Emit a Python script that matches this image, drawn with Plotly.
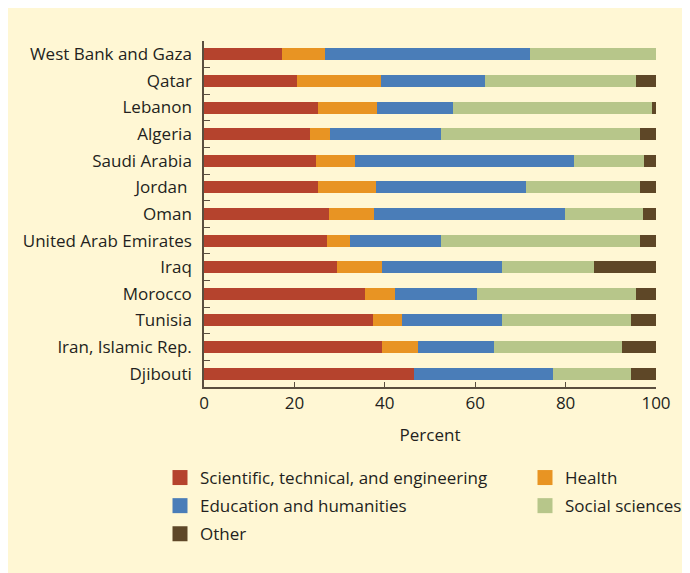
import plotly.graph_objects as go

countries = ["West Bank and Gaza", "Qatar", "Lebanon", "Algeria", "Saudi Arabia", "Jordan ",
             "Oman", "United Arab Emirates", "Iraq", "Morocco", "Tunisia",
             "Iran, Islamic Rep.", "Djibouti"]
scientific = [17.3, 20.6, 25.2, 23.5, 24.8, 25.2, 27.7, 27.2, 29.4, 35.6, 37.4, 39.4, 46.5]
health     = [9.5, 18.6, 13.1, 4.4, 8.6, 12.9, 9.9, 5.1, 10.0, 6.7, 6.4, 7.9, 0.0]
education  = [45.3, 23.0, 16.8, 24.5, 48.5, 33.1, 42.3, 20.1, 26.5, 18.1, 22.1, 16.9, 30.7]
social     = [27.9, 33.4, 44.0, 44.1, 15.4, 25.3, 17.2, 44.1, 20.4, 35.2, 28.6, 28.3, 17.3]
other      = [0.0, 4.4, 0.9, 3.5, 2.7, 3.5, 2.9, 3.5, 13.7, 4.4, 5.5, 7.5, 5.5]

x_ticks = [0, 20, 40, 60, 80, 100]

series = [
    ("Scientific, technical, and engineering", scientific, "#B5432D", "legend"),
    ("Health", health, "#E89423", "legend2"),
    ("Education and humanities", education, "#4A7DB8", "legend"),
    ("Social sciences", social, "#B7C68A", "legend2"),
    ("Other", other, "#5E4727", "legend"),
]

BG = "#FFF7D4"
TXT = "#231F20"
AX = "#5A4E3E"
FONT = "Open Sans"
FS = 17

fig = go.Figure()
for name, vals, col, leg in series:
    fig.add_trace(go.Bar(
        y=countries, x=vals, name=name, orientation="h",
        marker=dict(color=col, line=dict(width=0)),
        showlegend=False,
    ))
# legend swatches (square markers sized like the reference)
for name, vals, col, leg in series:
    fig.add_trace(go.Scatter(
        x=[None], y=[None], mode="markers", name=name,
        marker=dict(symbol="square", size=15, color=col, line=dict(width=0)),
        legend=leg, legendgroup=name, showlegend=True, hoverinfo="skip",
    ))

# page body adds an 8px offset; positions below are in figure pixels
OFF = 8
W, H = 690, 573
L, R, T, B = 204 - OFF, 690 - (656 - OFF), 41 - OFF, 573 - (387 - OFF)
pw, ph = W - L - R, H - T - B

def px_x(p):  # screen px -> paper
    return (p - OFF - L) / pw

def px_y(p):
    return 1 - (p - OFF - T) / ph

fig.update_layout(
    width=W, height=H,
    margin=dict(l=L, r=R, t=T, b=B, autoexpand=False),
    barmode="stack",
    bargap=0.55,
    paper_bgcolor=BG,
    plot_bgcolor=BG,
    font=dict(family=FONT, size=FS, color=TXT),
    xaxis=dict(
        range=[0, 100], tickvals=x_ticks, ticks="inside", ticklen=5,
        tickcolor=AX, showline=True, linecolor=AX, linewidth=1.5,
        showgrid=False, zeroline=False,
        title=dict(text="Percent", standoff=16, font=dict(size=FS)),
        tickfont=dict(size=FS),
    ),
    yaxis=dict(
        autorange="reversed", ticks="inside", ticklen=6, tickson="boundaries",
        tickcolor=AX, showline=True, linecolor=AX, linewidth=1.5,
        showgrid=False, zeroline=False, ticklabelstandoff=7,
        tickfont=dict(size=FS),
    ),
    legend=dict(
        x=px_x(160), y=px_y(460), xanchor="left", yanchor="top",
        bgcolor="rgba(0,0,0,0)", tracegroupgap=3, font=dict(size=FS),
        itemclick=False,
    ),
    legend2=dict(
        x=px_x(525), y=px_y(460), xanchor="left", yanchor="top",
        bgcolor="rgba(0,0,0,0)", tracegroupgap=3, font=dict(size=FS),
        itemclick=False,
    ),
)

fig.write_html("out.html")
